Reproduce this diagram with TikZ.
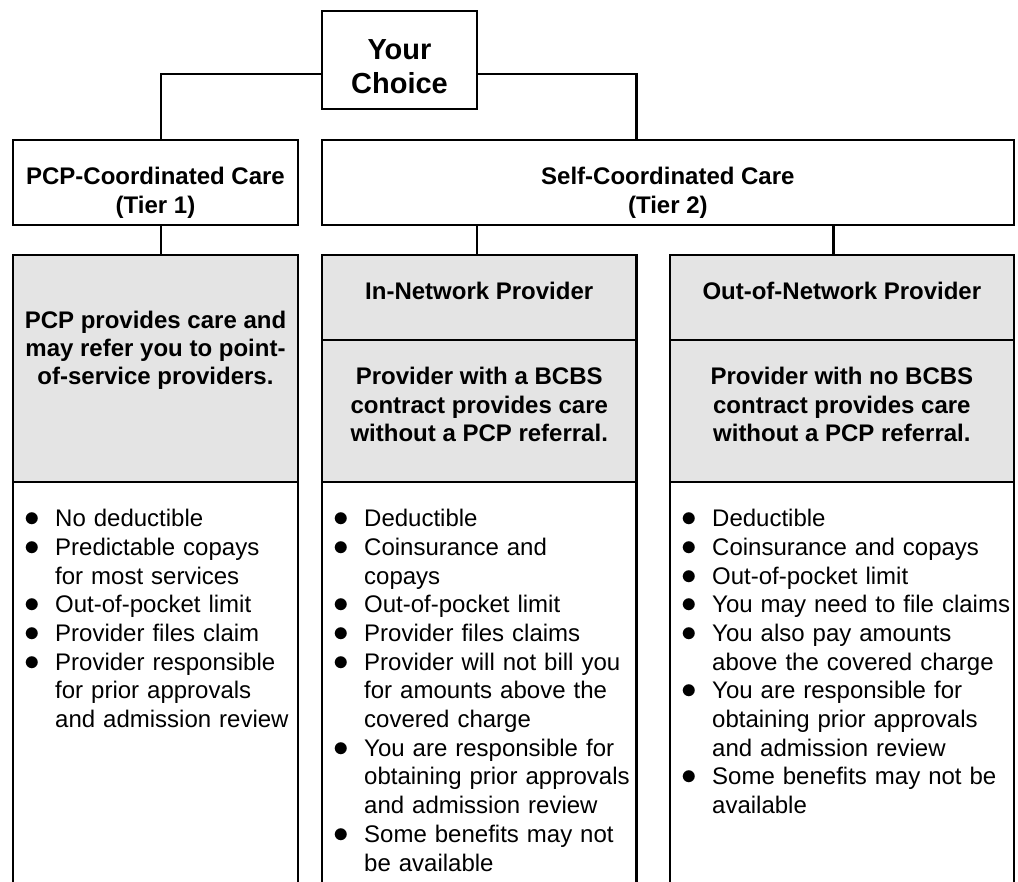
\documentclass[tikz,border=0pt]{standalone}
\usepackage{fontspec}
\setmainfont{Liberation Sans}
\usepackage{graphicx}
\usepackage{tikz}
\usetikzlibrary{positioning}
\definecolor{ink}{HTML}{000000}
\definecolor{panel}{HTML}{E4E4E4}
\newcommand{\listsize}{\fontsize{24}{28.7}\selectfont}
\newcommand{\entry}[1]{\noindent\hangindent=31pt\hangafter=1\makebox[31pt][l]{\scalebox{1.25}{$\bullet$}}#1\par}
\tikzset{
    box/.style={rectangle, draw=ink, line width=2.3pt, inner sep=0pt, outer sep=0pt},
    plain/.style={box, fill=white},
    shaded/.style={box, fill=panel},
    caption/.style={anchor=base, align=center, inner sep=0pt, font=\bfseries\fontsize{24}{28.4}\selectfont},
    bullets/.style={anchor=base west, align=left, inner sep=0pt, text width=330pt, font=\listsize},
    link/.style={draw=ink, line width=2.3pt}
}

\begin{document}
\begin{tikzpicture}[x=1pt, y=-1pt]
    \useasboundingbox (0,0) rectangle (1018,882);
    \clip (0,0) rectangle (1018,882);

    \node [plain, minimum width=155pt, minimum height=98pt] (choice) at (399.5,60) {};
    \node [plain, minimum width=285pt, minimum height=85.3pt] (tier1) at (155.5,182.65) {};
    \node [plain, minimum width=691.7pt, minimum height=85.3pt, right=24pt of tier1] (tier2) {};

    \node [shaded, minimum width=285pt, minimum height=226.7pt] (pcpbody) at (155.5,368.35) {};
    \node [plain, minimum width=285pt, minimum height=420pt, below=0pt of pcpbody] (pcplist) {};
    \node [shaded, minimum width=314.5pt, minimum height=85pt] (inhead) at (479.25,297.5) {};
    \node [shaded, minimum width=314.5pt, minimum height=141.7pt, below=0pt of inhead] (inbody) {};
    \node [plain, minimum width=314.5pt, minimum height=420pt, below=0pt of inbody] (inlist) {};
    \node [shaded, minimum width=343.7pt, minimum height=85pt, right=33.5pt of inhead] (outhead) {};
    \node [shaded, minimum width=343.7pt, minimum height=141.7pt, below=0pt of outhead] (outbody) {};
    \node [plain, minimum width=343.7pt, minimum height=420pt, below=0pt of outbody] (outlist) {};

    \draw [link] ([yshift=-14pt]choice.west) -| ([xshift=5.5pt]tier1.north);
    \draw [link] ([yshift=-14pt]choice.east) -| (inhead.east |- tier2.north);
    \draw [link] ([xshift=5.5pt]tier1.south) -- ([xshift=5.5pt]pcpbody.north);
    \draw [link] (choice.east |- tier2.south) -- (choice.east |- inhead.north);
    \draw [link] ([xshift=-8.5pt]outhead.north |- tier2.south) -- ([xshift=-8.5pt]outhead.north);

    \node [caption, font=\bfseries\fontsize{29}{33.3}\selectfont] (choicetext) at ([yshift=-33.3pt]choice.center) {Your\\Choice};
    \node [caption] (tier1text) at ([yshift=-30.65pt]tier1.center) {PCP-Coordinated Care\\(Tier 1)};
    \node [caption] (tier2text) at ([yshift=-30.65pt]tier2.center) {Self-Coordinated Care\\(Tier 2)};

    \node [caption] (pcptext) at ([yshift=-16.65pt]pcpbody.center) {PCP provides care and\\may refer you to point-\\of-service providers.};
    \node [caption] (intitle) at ([yshift=-1.8pt]inhead.center) {In-Network Provider};
    \node [caption] (intext) at ([yshift=-30.85pt]inbody.center) {Provider with a BCBS\\contract provides care\\without a PCP referral.};
    \node [caption] (outtitle) at ([yshift=-1.8pt]outhead.center) {Out-of-Network Provider};
    \node [caption] (outtext) at ([yshift=-30.85pt]outbody.center) {Provider with no BCBS\\contract provides care\\without a PCP referral.};

    \node [bullets] (pcpitems) at ([xshift=11pt, yshift=-45pt]pcplist.north west) {
        \entry{No deductible}
        \entry{Predictable copays\newline for most services}
        \entry{Out-of-pocket limit}
        \entry{Provider files claim}
        \entry{Provider responsible\newline for prior approvals\newline and admission review}
    };
    \node [bullets] (initems) at ([xshift=11pt, yshift=-45pt]inlist.north west) {
        \entry{Deductible}
        \entry{Coinsurance and\newline copays}
        \entry{Out-of-pocket limit}
        \entry{Provider files claims}
        \entry{Provider will not bill you\newline for amounts above the\newline covered charge}
        \entry{You are responsible for\newline obtaining prior approvals\newline and admission review}
        \entry{Some benefits may not\newline be available}
    };
    \node [bullets] (outitems) at ([xshift=11pt, yshift=-45pt]outlist.north west) {
        \entry{Deductible}
        \entry{Coinsurance and copays}
        \entry{Out-of-pocket limit}
        \entry{You may need to file claims}
        \entry{You also pay amounts\newline above the covered charge}
        \entry{You are responsible for\newline obtaining prior approvals\newline and admission review}
        \entry{Some benefits may not be\newline available}
    };
\end{tikzpicture}
\end{document}
